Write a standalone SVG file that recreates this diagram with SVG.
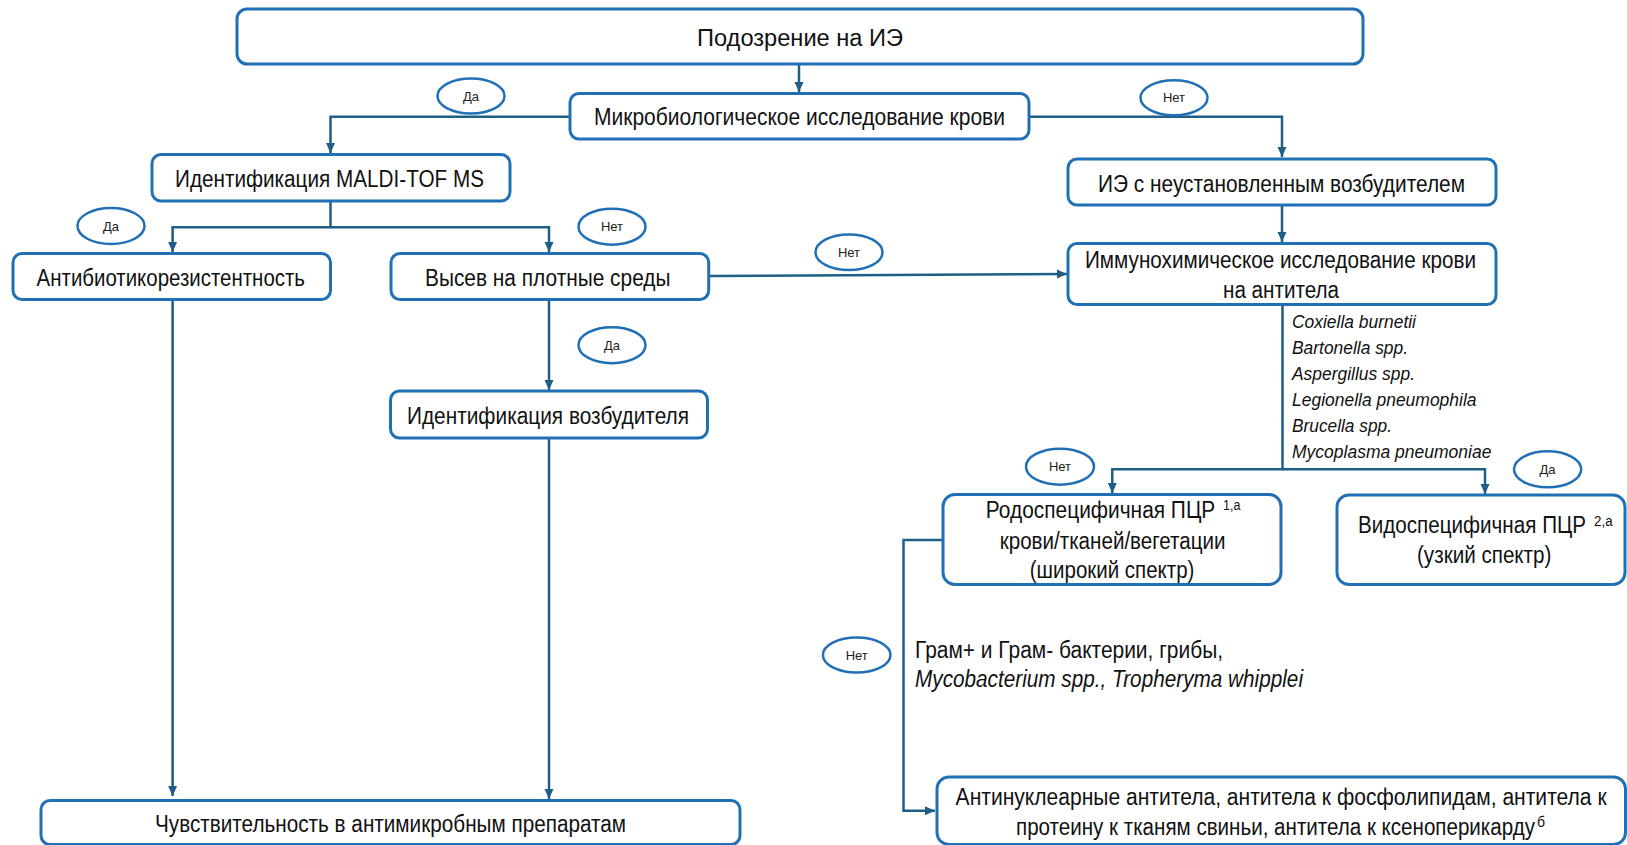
<svg xmlns="http://www.w3.org/2000/svg" width="1627" height="845" viewBox="0 0 1627 845">
<defs>
<style>
.box{fill:#fff;stroke:#2170B5;stroke-width:3}
.ell{fill:#fff;stroke:#2170B5;stroke-width:2.5}
.con{fill:none;stroke:#1F5F85;stroke-width:2.5}
.t{font-family:"Liberation Sans Narrow","Arial Narrow","Liberation Sans",sans-serif;fill:#111;font-size:23px}
.ti{font-family:"Liberation Sans Narrow","Arial Narrow","Liberation Sans",sans-serif;fill:#111;font-size:19px;font-style:italic}
.sup{font-family:"Liberation Sans Narrow","Arial Narrow","Liberation Sans",sans-serif;fill:#111;font-size:14px}
.lbl{font-family:"Liberation Sans Narrow","Arial Narrow","Liberation Sans",sans-serif;fill:#222;font-size:13px;text-anchor:middle}
</style>
<marker id="arr" markerUnits="userSpaceOnUse" markerWidth="10" markerHeight="10" refX="10" refY="5" orient="auto">
<path d="M0,0.5 L10,5 L0,9.5 z" fill="#1F5F85"/>
</marker>
</defs>
<rect width="1627" height="845" fill="#fff"/>

<g id="connectors">
<path class="con" d="M799,64 V92" marker-end="url(#arr)"/>
<path class="con" d="M570,116.7 H330.5 V153" marker-end="url(#arr)"/>
<path class="con" d="M1029,116.7 H1282 V157" marker-end="url(#arr)"/>
<path class="con" d="M330.5,201 V227.3 H172.6 V252" marker-end="url(#arr)"/>
<path class="con" d="M330.5,227.3 H549 V252" marker-end="url(#arr)"/>
<path class="con" d="M709,276 L1067,274" marker-end="url(#arr)"/>
<path class="con" d="M1282,205 V242" marker-end="url(#arr)"/>
<path class="con" d="M549,299 V390" marker-end="url(#arr)"/>
<path class="con" d="M172.6,299 V796" marker-end="url(#arr)"/>
<path class="con" d="M549,438 V799" marker-end="url(#arr)"/>
<path class="con" d="M1282.5,304 V469.3 H1112.3 V493" marker-end="url(#arr)"/>
<path class="con" d="M1282.5,469.3 H1485 V494" marker-end="url(#arr)"/>
<path class="con" d="M943,540 H903.5 V810.7 H935" marker-end="url(#arr)"/>
</g>

<g id="n-top">
<rect class="box" x="237" y="9" width="1126" height="55" rx="10"/>
<text class="t" x="697" y="46" font-size="25" textLength="206" lengthAdjust="spacingAndGlyphs">Подозрение на ИЭ</text>
</g>

<g id="n-micro">
<rect class="box" x="570" y="93.5" width="459" height="45.5" rx="9"/>
<text class="t" x="594" y="124.5" font-size="22" textLength="411" lengthAdjust="spacingAndGlyphs">Микробиологическое  исследование  крови</text>
</g>

<g id="n-maldi">
<rect class="box" x="152" y="154.5" width="358" height="46.5" rx="9"/>
<text class="t" x="175" y="186.5" textLength="309" lengthAdjust="spacingAndGlyphs">Идентификация MALDI-TOF MS</text>
</g>

<g id="n-ie">
<rect class="box" x="1068" y="159" width="428" height="46" rx="9"/>
<text class="t" x="1098" y="191.5" textLength="367" lengthAdjust="spacingAndGlyphs">ИЭ с неустановленным  возбудителем</text>
</g>

<g id="n-antibio">
<rect class="box" x="13" y="253.5" width="317.5" height="46" rx="9"/>
<text class="t" x="36.6" y="286" textLength="268.4" lengthAdjust="spacingAndGlyphs">Антибиотикорезистентность</text>
</g>

<g id="n-vysev">
<rect class="box" x="391" y="253.5" width="317.7" height="46" rx="9"/>
<text class="t" x="425" y="286" textLength="245.5" lengthAdjust="spacingAndGlyphs">Высев на плотные среды</text>
</g>

<g id="n-immuno">
<rect class="box" x="1068" y="243.5" width="428" height="61" rx="9"/>
<text class="t" x="1085" y="267.5" textLength="391" lengthAdjust="spacingAndGlyphs">Иммунохимическое  исследование крови</text>
<text class="t" x="1223" y="297.5" textLength="116" lengthAdjust="spacingAndGlyphs">на антитела</text>
</g>

<g id="n-species">
<text class="ti" x="1292" y="328.3" textLength="124" lengthAdjust="spacingAndGlyphs">Coxiella burnetii</text>
<text class="ti" x="1292" y="354.3" textLength="116" lengthAdjust="spacingAndGlyphs">Bartonella spp.</text>
<text class="ti" x="1292" y="380.3" textLength="123" lengthAdjust="spacingAndGlyphs">Aspergillus spp.</text>
<text class="ti" x="1292" y="406.3" textLength="184.5" lengthAdjust="spacingAndGlyphs">Legionella pneumophila</text>
<text class="ti" x="1292" y="432" textLength="100" lengthAdjust="spacingAndGlyphs">Brucella spp.</text>
<text class="ti" x="1292" y="458" textLength="199.4" lengthAdjust="spacingAndGlyphs">Mycoplasma pneumoniae</text>
</g>

<g id="n-ident">
<rect class="box" x="390.5" y="391" width="317" height="47" rx="9"/>
<text class="t" x="407" y="423.5" textLength="282" lengthAdjust="spacingAndGlyphs">Идентификация возбудителя</text>
</g>

<g id="n-sens">
<rect class="box" x="41" y="800.5" width="699" height="44" rx="9"/>
<text class="t" x="155" y="831.8" textLength="471" lengthAdjust="spacingAndGlyphs">Чувствительность в антимикробным препаратам</text>
</g>

<g id="n-rodo">
<rect class="box" x="943" y="494.5" width="338" height="90" rx="12"/>
<text class="t" x="985.8" y="518.3" textLength="229.5" lengthAdjust="spacingAndGlyphs">Родоспецифичная ПЦР</text>
<text class="sup" x="1223" y="510" textLength="17.4" lengthAdjust="spacingAndGlyphs">1,а</text>
<text class="t" x="999.7" y="549.3" textLength="225.8" lengthAdjust="spacingAndGlyphs">крови/тканей/вегетации</text>
<text class="t" x="1029.8" y="578.3" textLength="164.6" lengthAdjust="spacingAndGlyphs">(широкий  спектр)</text>
</g>

<g id="n-vido">
<rect class="box" x="1337" y="495" width="288" height="89.5" rx="12"/>
<text class="t" x="1358" y="533.3" textLength="228" lengthAdjust="spacingAndGlyphs">Видоспецифичная ПЦР</text>
<text class="sup" x="1594" y="525.5" textLength="18.6" lengthAdjust="spacingAndGlyphs">2,а</text>
<text class="t" x="1417" y="563.3" textLength="134.4" lengthAdjust="spacingAndGlyphs">(узкий  спектр)</text>
</g>

<g id="n-gram">
<text class="t" x="915" y="658.3" font-size="22" textLength="308" lengthAdjust="spacingAndGlyphs">Грам+ и Грам- бактерии, грибы,</text>
<text class="t" x="915" y="687.3" font-size="22" font-style="italic" textLength="388" lengthAdjust="spacingAndGlyphs">Mycobacterium spp., Tropheryma whipplei</text>
</g>

<g id="n-anti">
<rect class="box" x="937" y="777" width="688.5" height="67.5" rx="12"/>
<text class="t" x="955.6" y="805" textLength="651" lengthAdjust="spacingAndGlyphs">Антинуклеарные  антитела, антитела  к фосфолипидам, антитела к</text>
<text class="t" x="1016" y="834.5" textLength="519" lengthAdjust="spacingAndGlyphs">протеину к тканям свиньи, антитела к ксеноперикарду</text>
<text class="sup" x="1537" y="827" font-size="12">б</text>
</g>

<g id="labels">
<g id="l-da1"><ellipse class="ell" cx="471" cy="96" rx="33.5" ry="17.5"/><text class="lbl" x="471" y="100.5">Да</text></g>
<g id="l-net1"><ellipse class="ell" cx="1174" cy="97.7" rx="33.5" ry="17.5"/><text class="lbl" x="1174" y="102.2">Нет</text></g>
<g id="l-da2"><ellipse class="ell" cx="111" cy="226" rx="33.5" ry="18"/><text class="lbl" x="111" y="230.5">Да</text></g>
<g id="l-net2"><ellipse class="ell" cx="612" cy="226.7" rx="33.5" ry="18"/><text class="lbl" x="612" y="231.2">Нет</text></g>
<g id="l-net3"><ellipse class="ell" cx="849" cy="252.3" rx="33.5" ry="17.8"/><text class="lbl" x="849" y="256.8">Нет</text></g>
<g id="l-da3"><ellipse class="ell" cx="612" cy="345.2" rx="33.5" ry="18"/><text class="lbl" x="612" y="349.7">Да</text></g>
<g id="l-net4"><ellipse class="ell" cx="1060" cy="466.7" rx="34" ry="18"/><text class="lbl" x="1060" y="471.2">Нет</text></g>
<g id="l-da4"><ellipse class="ell" cx="1547.6" cy="469.3" rx="33.6" ry="18"/><text class="lbl" x="1547.6" y="473.8">Да</text></g>
<g id="l-net5"><ellipse class="ell" cx="856.7" cy="655" rx="33.8" ry="17.5"/><text class="lbl" x="856.7" y="659.5">Нет</text></g>
</g>
</svg>
